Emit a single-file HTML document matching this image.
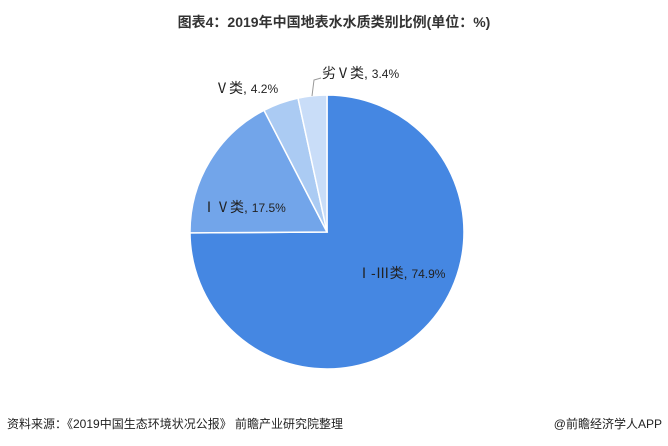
<!DOCTYPE html>
<html><head><meta charset="utf-8"><style>
body{margin:0;width:668px;height:446px;background:#fff;overflow:hidden;font-family:"Liberation Sans","Noto Sans CJK SC",sans-serif;}
</style></head><body>
<svg width="668" height="446" xmlns="http://www.w3.org/2000/svg" style="position:absolute;left:0;top:0">
<text x="334" y="27" text-anchor="middle" font-size="14" font-weight="bold" fill="#333" font-family="Liberation Sans,Noto Sans CJK SC,sans-serif">图表4：2019年中国地表水水质类别比例(单位：%)</text>
<g stroke="#fff" stroke-width="1.5">
<path d="M327,232 L327,95 A137,137 0 1 1 190,232.9 Z" fill="#4587e2"/>
<path d="M327,232 L190,232.9 A137,137 0 0 1 264,110.3 Z" fill="#72a5ea"/>
<path d="M327,232 L264,110.3 A137,137 0 0 1 298,98.1 Z" fill="#abcbf3"/>
<path d="M327,232 L298,98.1 A137,137 0 0 1 327,95 Z" fill="#c9ddf8"/>
</g>
<polyline points="312,96 314,80 321,78" fill="none" stroke="#999" stroke-width="1"/>
<g font-size="14" fill="#222" font-family="Liberation Sans,Noto Sans CJK SC,sans-serif">
<text x="357" y="278">Ⅰ-Ⅲ类, <tspan font-size="12">74.9%</tspan></text>
<text x="202" y="212">ⅠⅤ类, <tspan font-size="12">17.5%</tspan></text>
<text x="215" y="93">Ⅴ类, <tspan font-size="12">4.2%</tspan></text>
<text x="322" y="78">劣Ⅴ类, <tspan font-size="12">3.4%</tspan></text>
</g>
<text x="7" y="428" font-size="12" fill="#222" font-family="Liberation Sans,Noto Sans CJK SC,sans-serif">资料来源：《2019中国生态环境状况公报》 前瞻产业研究院整理</text>
<text x="662" y="428" text-anchor="end" font-size="12" fill="#222" font-family="Liberation Sans,Noto Sans CJK SC,sans-serif">@前瞻经济学人APP</text>
</svg>
</body></html>
